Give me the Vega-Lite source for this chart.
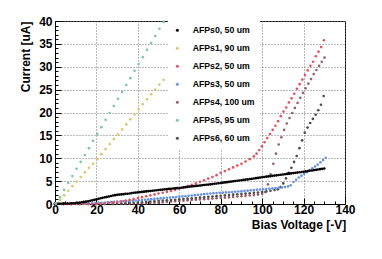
{
"$schema":"https://vega.github.io/schema/vega-lite/v6.json",
"width":290,"height":183,"autosize":"none",
"padding":{"left":55,"top":21,"right":37,"bottom":55},
"background":"white",
"config":{"view":{"stroke":"black","strokeWidth":1},"font":"Liberation Sans"},
"data":{"values":[
{"s":"AFPs4, 100 um","v":0,"i":0},{"s":"AFPs4, 100 um","v":4,"i":0},{"s":"AFPs4, 100 um","v":8,"i":0},{"s":"AFPs4, 100 um","v":12,"i":0},{"s":"AFPs4, 100 um","v":16,"i":0},{"s":"AFPs4, 100 um","v":20,"i":0},{"s":"AFPs4, 100 um","v":24,"i":0.01},{"s":"AFPs4, 100 um","v":28,"i":0.02},{"s":"AFPs4, 100 um","v":30,"i":0.05},{"s":"AFPs4, 100 um","v":32,"i":0.06},{"s":"AFPs4, 100 um","v":34,"i":0.07},{"s":"AFPs4, 100 um","v":36,"i":0.08},{"s":"AFPs4, 100 um","v":38,"i":0.09},{"s":"AFPs4, 100 um","v":40,"i":0.1},{"s":"AFPs4, 100 um","v":42,"i":0.14},{"s":"AFPs4, 100 um","v":44,"i":0.18},{"s":"AFPs4, 100 um","v":46,"i":0.22},{"s":"AFPs4, 100 um","v":48,"i":0.25},{"s":"AFPs4, 100 um","v":50,"i":0.28},{"s":"AFPs4, 100 um","v":52,"i":0.36},{"s":"AFPs4, 100 um","v":54,"i":0.44},{"s":"AFPs4, 100 um","v":56,"i":0.52},{"s":"AFPs4, 100 um","v":58,"i":0.59},{"s":"AFPs4, 100 um","v":60,"i":0.65},{"s":"AFPs4, 100 um","v":62,"i":0.72},{"s":"AFPs4, 100 um","v":64,"i":0.8},{"s":"AFPs4, 100 um","v":66,"i":0.87},{"s":"AFPs4, 100 um","v":68,"i":0.93},{"s":"AFPs4, 100 um","v":70,"i":1.0},{"s":"AFPs4, 100 um","v":72,"i":1.06},{"s":"AFPs4, 100 um","v":74,"i":1.12},{"s":"AFPs4, 100 um","v":76,"i":1.18},{"s":"AFPs4, 100 um","v":78,"i":1.25},{"s":"AFPs4, 100 um","v":80,"i":1.31},{"s":"AFPs4, 100 um","v":82,"i":1.37},{"s":"AFPs4, 100 um","v":84,"i":1.44},{"s":"AFPs4, 100 um","v":86,"i":1.53},{"s":"AFPs4, 100 um","v":88,"i":1.62},{"s":"AFPs4, 100 um","v":90,"i":1.7},{"s":"AFPs4, 100 um","v":92,"i":1.78},{"s":"AFPs4, 100 um","v":94,"i":1.86},{"s":"AFPs4, 100 um","v":96,"i":1.95},{"s":"AFPs4, 100 um","v":98,"i":2.05},{"s":"AFPs4, 100 um","v":100,"i":2.25},{"s":"AFPs4, 100 um","v":101.5,"i":2.6},{"s":"AFPs4, 100 um","v":102.8,"i":4.3},{"s":"AFPs4, 100 um","v":104.1,"i":6.5},{"s":"AFPs4, 100 um","v":105.4,"i":8.8},{"s":"AFPs4, 100 um","v":106.7,"i":11.0},{"s":"AFPs4, 100 um","v":108,"i":13.0},{"s":"AFPs4, 100 um","v":109.3,"i":14.6},{"s":"AFPs4, 100 um","v":110.6,"i":16.2},{"s":"AFPs4, 100 um","v":111.9,"i":17.6},{"s":"AFPs4, 100 um","v":113.2,"i":18.8},{"s":"AFPs4, 100 um","v":114.5,"i":19.9},{"s":"AFPs4, 100 um","v":115.8,"i":21.0},{"s":"AFPs4, 100 um","v":117.1,"i":22.1},{"s":"AFPs4, 100 um","v":118.4,"i":23.2},{"s":"AFPs4, 100 um","v":119.7,"i":24.3},{"s":"AFPs4, 100 um","v":121,"i":25.3},{"s":"AFPs4, 100 um","v":122.3,"i":26.3},{"s":"AFPs4, 100 um","v":123.6,"i":27.3},{"s":"AFPs4, 100 um","v":124.9,"i":28.4},{"s":"AFPs4, 100 um","v":126.2,"i":29.3},{"s":"AFPs4, 100 um","v":127.5,"i":30.2},{"s":"AFPs4, 100 um","v":128.8,"i":31.1},{"s":"AFPs4, 100 um","v":130.1,"i":32.0},
{"s":"AFPs6, 60 um","v":0,"i":0.02},{"s":"AFPs6, 60 um","v":4,"i":0.02},{"s":"AFPs6, 60 um","v":8,"i":0.02},{"s":"AFPs6, 60 um","v":12,"i":0.02},{"s":"AFPs6, 60 um","v":16,"i":0.02},{"s":"AFPs6, 60 um","v":20,"i":0.02},{"s":"AFPs6, 60 um","v":24,"i":0.02},{"s":"AFPs6, 60 um","v":28,"i":0.03},{"s":"AFPs6, 60 um","v":30,"i":0.04},{"s":"AFPs6, 60 um","v":32,"i":0.08},{"s":"AFPs6, 60 um","v":34,"i":0.14},{"s":"AFPs6, 60 um","v":36,"i":0.2},{"s":"AFPs6, 60 um","v":38,"i":0.25},{"s":"AFPs6, 60 um","v":40,"i":0.3},{"s":"AFPs6, 60 um","v":42,"i":0.38},{"s":"AFPs6, 60 um","v":44,"i":0.46},{"s":"AFPs6, 60 um","v":46,"i":0.54},{"s":"AFPs6, 60 um","v":48,"i":0.62},{"s":"AFPs6, 60 um","v":50,"i":0.7},{"s":"AFPs6, 60 um","v":52,"i":0.76},{"s":"AFPs6, 60 um","v":54,"i":0.82},{"s":"AFPs6, 60 um","v":56,"i":0.88},{"s":"AFPs6, 60 um","v":58,"i":0.94},{"s":"AFPs6, 60 um","v":60,"i":1.0},{"s":"AFPs6, 60 um","v":62,"i":1.08},{"s":"AFPs6, 60 um","v":64,"i":1.16},{"s":"AFPs6, 60 um","v":66,"i":1.24},{"s":"AFPs6, 60 um","v":68,"i":1.32},{"s":"AFPs6, 60 um","v":70,"i":1.4},{"s":"AFPs6, 60 um","v":72,"i":1.48},{"s":"AFPs6, 60 um","v":74,"i":1.56},{"s":"AFPs6, 60 um","v":76,"i":1.64},{"s":"AFPs6, 60 um","v":78,"i":1.72},{"s":"AFPs6, 60 um","v":80,"i":1.8},{"s":"AFPs6, 60 um","v":82,"i":1.88},{"s":"AFPs6, 60 um","v":84,"i":1.96},{"s":"AFPs6, 60 um","v":86,"i":2.04},{"s":"AFPs6, 60 um","v":88,"i":2.12},{"s":"AFPs6, 60 um","v":90,"i":2.2},{"s":"AFPs6, 60 um","v":92,"i":2.28},{"s":"AFPs6, 60 um","v":94,"i":2.36},{"s":"AFPs6, 60 um","v":96,"i":2.44},{"s":"AFPs6, 60 um","v":98,"i":2.52},{"s":"AFPs6, 60 um","v":100,"i":2.6},{"s":"AFPs6, 60 um","v":102,"i":2.75},{"s":"AFPs6, 60 um","v":104,"i":2.9},{"s":"AFPs6, 60 um","v":106,"i":3.05},{"s":"AFPs6, 60 um","v":107.6,"i":3.2},{"s":"AFPs6, 60 um","v":108.9,"i":3.7},{"s":"AFPs6, 60 um","v":110.2,"i":4.5},{"s":"AFPs6, 60 um","v":111.5,"i":5.6},{"s":"AFPs6, 60 um","v":112.8,"i":6.8},{"s":"AFPs6, 60 um","v":114.1,"i":7.9},{"s":"AFPs6, 60 um","v":115.4,"i":9.2},{"s":"AFPs6, 60 um","v":116.7,"i":10.5},{"s":"AFPs6, 60 um","v":118,"i":12.2},{"s":"AFPs6, 60 um","v":119.3,"i":13.9},{"s":"AFPs6, 60 um","v":120.6,"i":15.6},{"s":"AFPs6, 60 um","v":121.9,"i":16.7},{"s":"AFPs6, 60 um","v":123.2,"i":17.7},{"s":"AFPs6, 60 um","v":124.5,"i":18.6},{"s":"AFPs6, 60 um","v":125.8,"i":19.5},{"s":"AFPs6, 60 um","v":127.1,"i":20.5},{"s":"AFPs6, 60 um","v":128.4,"i":21.7},{"s":"AFPs6, 60 um","v":129.7,"i":23.6},
{"s":"AFPs3, 50 um","v":0,"i":0.02},{"s":"AFPs3, 50 um","v":1.5,"i":0.02},{"s":"AFPs3, 50 um","v":3,"i":0.02},{"s":"AFPs3, 50 um","v":4.5,"i":0.02},{"s":"AFPs3, 50 um","v":6,"i":0.03},{"s":"AFPs3, 50 um","v":7.5,"i":0.03},{"s":"AFPs3, 50 um","v":9,"i":0.04},{"s":"AFPs3, 50 um","v":10.5,"i":0.05},{"s":"AFPs3, 50 um","v":12,"i":0.06},{"s":"AFPs3, 50 um","v":13.5,"i":0.07},{"s":"AFPs3, 50 um","v":15,"i":0.08},{"s":"AFPs3, 50 um","v":16.5,"i":0.11},{"s":"AFPs3, 50 um","v":18,"i":0.15},{"s":"AFPs3, 50 um","v":19.5,"i":0.19},{"s":"AFPs3, 50 um","v":21,"i":0.23},{"s":"AFPs3, 50 um","v":22.5,"i":0.27},{"s":"AFPs3, 50 um","v":24,"i":0.32},{"s":"AFPs3, 50 um","v":25.5,"i":0.36},{"s":"AFPs3, 50 um","v":27,"i":0.41},{"s":"AFPs3, 50 um","v":28.5,"i":0.45},{"s":"AFPs3, 50 um","v":30,"i":0.5},{"s":"AFPs3, 50 um","v":31.5,"i":0.55},{"s":"AFPs3, 50 um","v":33,"i":0.59},{"s":"AFPs3, 50 um","v":34.5,"i":0.64},{"s":"AFPs3, 50 um","v":36,"i":0.68},{"s":"AFPs3, 50 um","v":37.5,"i":0.73},{"s":"AFPs3, 50 um","v":39,"i":0.77},{"s":"AFPs3, 50 um","v":40.5,"i":0.82},{"s":"AFPs3, 50 um","v":42,"i":0.88},{"s":"AFPs3, 50 um","v":43.5,"i":0.94},{"s":"AFPs3, 50 um","v":45,"i":1.0},{"s":"AFPs3, 50 um","v":46.5,"i":1.06},{"s":"AFPs3, 50 um","v":48,"i":1.12},{"s":"AFPs3, 50 um","v":49.5,"i":1.18},{"s":"AFPs3, 50 um","v":51,"i":1.24},{"s":"AFPs3, 50 um","v":52.5,"i":1.3},{"s":"AFPs3, 50 um","v":54,"i":1.36},{"s":"AFPs3, 50 um","v":55.5,"i":1.42},{"s":"AFPs3, 50 um","v":57,"i":1.48},{"s":"AFPs3, 50 um","v":58.5,"i":1.54},{"s":"AFPs3, 50 um","v":60,"i":1.6},{"s":"AFPs3, 50 um","v":61.5,"i":1.66},{"s":"AFPs3, 50 um","v":63,"i":1.72},{"s":"AFPs3, 50 um","v":64.5,"i":1.78},{"s":"AFPs3, 50 um","v":66,"i":1.85},{"s":"AFPs3, 50 um","v":67.5,"i":1.93},{"s":"AFPs3, 50 um","v":69,"i":2.0},{"s":"AFPs3, 50 um","v":70.5,"i":2.08},{"s":"AFPs3, 50 um","v":72,"i":2.15},{"s":"AFPs3, 50 um","v":73.5,"i":2.23},{"s":"AFPs3, 50 um","v":75,"i":2.3},{"s":"AFPs3, 50 um","v":76.5,"i":2.35},{"s":"AFPs3, 50 um","v":78,"i":2.39},{"s":"AFPs3, 50 um","v":79.5,"i":2.44},{"s":"AFPs3, 50 um","v":81,"i":2.48},{"s":"AFPs3, 50 um","v":82.5,"i":2.53},{"s":"AFPs3, 50 um","v":84,"i":2.57},{"s":"AFPs3, 50 um","v":85.5,"i":2.62},{"s":"AFPs3, 50 um","v":87,"i":2.68},{"s":"AFPs3, 50 um","v":88.5,"i":2.74},{"s":"AFPs3, 50 um","v":90,"i":2.8},{"s":"AFPs3, 50 um","v":91.5,"i":2.86},{"s":"AFPs3, 50 um","v":93,"i":2.92},{"s":"AFPs3, 50 um","v":94.5,"i":2.98},{"s":"AFPs3, 50 um","v":96,"i":3.04},{"s":"AFPs3, 50 um","v":97.5,"i":3.1},{"s":"AFPs3, 50 um","v":99,"i":3.16},{"s":"AFPs3, 50 um","v":100.5,"i":3.22},{"s":"AFPs3, 50 um","v":102,"i":3.28},{"s":"AFPs3, 50 um","v":103.5,"i":3.34},{"s":"AFPs3, 50 um","v":105,"i":3.4},{"s":"AFPs3, 50 um","v":106.5,"i":3.47},{"s":"AFPs3, 50 um","v":108,"i":3.55},{"s":"AFPs3, 50 um","v":109.5,"i":3.62},{"s":"AFPs3, 50 um","v":111,"i":3.7},{"s":"AFPs3, 50 um","v":112.5,"i":3.85},{"s":"AFPs3, 50 um","v":113.8,"i":4.1},{"s":"AFPs3, 50 um","v":115.1,"i":4.8},{"s":"AFPs3, 50 um","v":116.4,"i":5.3},{"s":"AFPs3, 50 um","v":117.7,"i":5.8},{"s":"AFPs3, 50 um","v":119,"i":6.2},{"s":"AFPs3, 50 um","v":120.3,"i":6.6},{"s":"AFPs3, 50 um","v":121.6,"i":7.0},{"s":"AFPs3, 50 um","v":122.9,"i":7.4},{"s":"AFPs3, 50 um","v":124.2,"i":7.8},{"s":"AFPs3, 50 um","v":125.5,"i":8.2},{"s":"AFPs3, 50 um","v":126.8,"i":8.6},{"s":"AFPs3, 50 um","v":128.1,"i":9.1},{"s":"AFPs3, 50 um","v":129.4,"i":9.6},{"s":"AFPs3, 50 um","v":130.7,"i":10.1},
{"s":"AFPs2, 50 um","v":0,"i":0.02},{"s":"AFPs2, 50 um","v":2,"i":0.02},{"s":"AFPs2, 50 um","v":4,"i":0.02},{"s":"AFPs2, 50 um","v":6,"i":0.02},{"s":"AFPs2, 50 um","v":8,"i":0.02},{"s":"AFPs2, 50 um","v":10,"i":0.02},{"s":"AFPs2, 50 um","v":12,"i":0.02},{"s":"AFPs2, 50 um","v":14,"i":0.02},{"s":"AFPs2, 50 um","v":16,"i":0.02},{"s":"AFPs2, 50 um","v":18,"i":0.03},{"s":"AFPs2, 50 um","v":20,"i":0.04},{"s":"AFPs2, 50 um","v":22,"i":0.08},{"s":"AFPs2, 50 um","v":24,"i":0.15},{"s":"AFPs2, 50 um","v":26,"i":0.25},{"s":"AFPs2, 50 um","v":28,"i":0.35},{"s":"AFPs2, 50 um","v":30,"i":0.45},{"s":"AFPs2, 50 um","v":32,"i":0.6},{"s":"AFPs2, 50 um","v":34,"i":0.75},{"s":"AFPs2, 50 um","v":36,"i":0.9},{"s":"AFPs2, 50 um","v":38,"i":1.1},{"s":"AFPs2, 50 um","v":40,"i":1.3},{"s":"AFPs2, 50 um","v":42,"i":1.5},{"s":"AFPs2, 50 um","v":44,"i":1.7},{"s":"AFPs2, 50 um","v":46,"i":1.9},{"s":"AFPs2, 50 um","v":48,"i":2.1},{"s":"AFPs2, 50 um","v":50,"i":2.3},{"s":"AFPs2, 50 um","v":52,"i":2.45},{"s":"AFPs2, 50 um","v":54,"i":2.65},{"s":"AFPs2, 50 um","v":56,"i":2.85},{"s":"AFPs2, 50 um","v":58,"i":3.1},{"s":"AFPs2, 50 um","v":60,"i":3.35},{"s":"AFPs2, 50 um","v":62,"i":3.6},{"s":"AFPs2, 50 um","v":64,"i":3.9},{"s":"AFPs2, 50 um","v":66,"i":4.2},{"s":"AFPs2, 50 um","v":68,"i":4.5},{"s":"AFPs2, 50 um","v":70,"i":4.85},{"s":"AFPs2, 50 um","v":72,"i":5.2},{"s":"AFPs2, 50 um","v":74,"i":5.55},{"s":"AFPs2, 50 um","v":76,"i":5.9},{"s":"AFPs2, 50 um","v":78,"i":6.3},{"s":"AFPs2, 50 um","v":80,"i":6.8},{"s":"AFPs2, 50 um","v":82,"i":7.2},{"s":"AFPs2, 50 um","v":84,"i":7.6},{"s":"AFPs2, 50 um","v":86,"i":8.0},{"s":"AFPs2, 50 um","v":88,"i":8.4},{"s":"AFPs2, 50 um","v":90,"i":8.8},{"s":"AFPs2, 50 um","v":92,"i":9.3},{"s":"AFPs2, 50 um","v":94,"i":9.8},{"s":"AFPs2, 50 um","v":96,"i":10.4},{"s":"AFPs2, 50 um","v":97.3,"i":11.0},{"s":"AFPs2, 50 um","v":98.6,"i":11.8},{"s":"AFPs2, 50 um","v":99.9,"i":12.6},{"s":"AFPs2, 50 um","v":101.2,"i":13.5},{"s":"AFPs2, 50 um","v":102.5,"i":14.4},{"s":"AFPs2, 50 um","v":103.8,"i":15.3},{"s":"AFPs2, 50 um","v":105.1,"i":16.2},{"s":"AFPs2, 50 um","v":106.4,"i":17.1},{"s":"AFPs2, 50 um","v":107.7,"i":18.1},{"s":"AFPs2, 50 um","v":109,"i":19.2},{"s":"AFPs2, 50 um","v":110.3,"i":20.2},{"s":"AFPs2, 50 um","v":111.6,"i":21.1},{"s":"AFPs2, 50 um","v":112.9,"i":22.2},{"s":"AFPs2, 50 um","v":114.2,"i":23.1},{"s":"AFPs2, 50 um","v":115.5,"i":24.1},{"s":"AFPs2, 50 um","v":116.8,"i":25.2},{"s":"AFPs2, 50 um","v":118.1,"i":26.2},{"s":"AFPs2, 50 um","v":119.4,"i":27.2},{"s":"AFPs2, 50 um","v":120.7,"i":28.2},{"s":"AFPs2, 50 um","v":122,"i":29.2},{"s":"AFPs2, 50 um","v":123.3,"i":30.2},{"s":"AFPs2, 50 um","v":124.6,"i":31.1},{"s":"AFPs2, 50 um","v":125.9,"i":32.3},{"s":"AFPs2, 50 um","v":127.2,"i":33.3},{"s":"AFPs2, 50 um","v":128.5,"i":34.3},{"s":"AFPs2, 50 um","v":129.8,"i":35.8},
{"s":"AFPs0, 50 um","v":0,"i":0.05},{"s":"AFPs0, 50 um","v":1,"i":0.05},{"s":"AFPs0, 50 um","v":2,"i":0.05},{"s":"AFPs0, 50 um","v":3,"i":0.05},{"s":"AFPs0, 50 um","v":4,"i":0.08},{"s":"AFPs0, 50 um","v":5,"i":0.1},{"s":"AFPs0, 50 um","v":6,"i":0.1},{"s":"AFPs0, 50 um","v":7,"i":0.12},{"s":"AFPs0, 50 um","v":8,"i":0.15},{"s":"AFPs0, 50 um","v":9,"i":0.17},{"s":"AFPs0, 50 um","v":10,"i":0.2},{"s":"AFPs0, 50 um","v":11,"i":0.25},{"s":"AFPs0, 50 um","v":12,"i":0.3},{"s":"AFPs0, 50 um","v":13,"i":0.38},{"s":"AFPs0, 50 um","v":14,"i":0.45},{"s":"AFPs0, 50 um","v":15,"i":0.52},{"s":"AFPs0, 50 um","v":16,"i":0.6},{"s":"AFPs0, 50 um","v":17,"i":0.7},{"s":"AFPs0, 50 um","v":18,"i":0.8},{"s":"AFPs0, 50 um","v":19,"i":0.9},{"s":"AFPs0, 50 um","v":20,"i":1.0},{"s":"AFPs0, 50 um","v":21,"i":1.12},{"s":"AFPs0, 50 um","v":22,"i":1.25},{"s":"AFPs0, 50 um","v":23,"i":1.35},{"s":"AFPs0, 50 um","v":24,"i":1.45},{"s":"AFPs0, 50 um","v":25,"i":1.55},{"s":"AFPs0, 50 um","v":26,"i":1.65},{"s":"AFPs0, 50 um","v":27,"i":1.75},{"s":"AFPs0, 50 um","v":28,"i":1.85},{"s":"AFPs0, 50 um","v":29,"i":1.93},{"s":"AFPs0, 50 um","v":30,"i":2.0},{"s":"AFPs0, 50 um","v":31,"i":2.05},{"s":"AFPs0, 50 um","v":32,"i":2.1},{"s":"AFPs0, 50 um","v":33,"i":2.15},{"s":"AFPs0, 50 um","v":34,"i":2.2},{"s":"AFPs0, 50 um","v":35,"i":2.25},{"s":"AFPs0, 50 um","v":36,"i":2.3},{"s":"AFPs0, 50 um","v":37,"i":2.38},{"s":"AFPs0, 50 um","v":38,"i":2.45},{"s":"AFPs0, 50 um","v":39,"i":2.5},{"s":"AFPs0, 50 um","v":40,"i":2.55},{"s":"AFPs0, 50 um","v":41,"i":2.6},{"s":"AFPs0, 50 um","v":42,"i":2.65},{"s":"AFPs0, 50 um","v":43,"i":2.7},{"s":"AFPs0, 50 um","v":44,"i":2.75},{"s":"AFPs0, 50 um","v":45,"i":2.8},{"s":"AFPs0, 50 um","v":46,"i":2.85},{"s":"AFPs0, 50 um","v":47,"i":2.9},{"s":"AFPs0, 50 um","v":48,"i":2.95},{"s":"AFPs0, 50 um","v":49,"i":3.0},{"s":"AFPs0, 50 um","v":50,"i":3.05},{"s":"AFPs0, 50 um","v":51,"i":3.1},{"s":"AFPs0, 50 um","v":52,"i":3.15},{"s":"AFPs0, 50 um","v":53,"i":3.2},{"s":"AFPs0, 50 um","v":54,"i":3.25},{"s":"AFPs0, 50 um","v":55,"i":3.3},{"s":"AFPs0, 50 um","v":56,"i":3.34},{"s":"AFPs0, 50 um","v":57,"i":3.38},{"s":"AFPs0, 50 um","v":58,"i":3.42},{"s":"AFPs0, 50 um","v":59,"i":3.46},{"s":"AFPs0, 50 um","v":60,"i":3.5},{"s":"AFPs0, 50 um","v":61,"i":3.56},{"s":"AFPs0, 50 um","v":62,"i":3.62},{"s":"AFPs0, 50 um","v":63,"i":3.68},{"s":"AFPs0, 50 um","v":64,"i":3.74},{"s":"AFPs0, 50 um","v":65,"i":3.8},{"s":"AFPs0, 50 um","v":66,"i":3.85},{"s":"AFPs0, 50 um","v":67,"i":3.9},{"s":"AFPs0, 50 um","v":68,"i":3.95},{"s":"AFPs0, 50 um","v":69,"i":4.0},{"s":"AFPs0, 50 um","v":70,"i":4.05},{"s":"AFPs0, 50 um","v":71,"i":4.1},{"s":"AFPs0, 50 um","v":72,"i":4.15},{"s":"AFPs0, 50 um","v":73,"i":4.2},{"s":"AFPs0, 50 um","v":74,"i":4.25},{"s":"AFPs0, 50 um","v":75,"i":4.3},{"s":"AFPs0, 50 um","v":76,"i":4.36},{"s":"AFPs0, 50 um","v":77,"i":4.42},{"s":"AFPs0, 50 um","v":78,"i":4.48},{"s":"AFPs0, 50 um","v":79,"i":4.54},{"s":"AFPs0, 50 um","v":80,"i":4.6},{"s":"AFPs0, 50 um","v":81,"i":4.66},{"s":"AFPs0, 50 um","v":82,"i":4.72},{"s":"AFPs0, 50 um","v":83,"i":4.78},{"s":"AFPs0, 50 um","v":84,"i":4.84},{"s":"AFPs0, 50 um","v":85,"i":4.9},{"s":"AFPs0, 50 um","v":86,"i":4.96},{"s":"AFPs0, 50 um","v":87,"i":5.02},{"s":"AFPs0, 50 um","v":88,"i":5.08},{"s":"AFPs0, 50 um","v":89,"i":5.14},{"s":"AFPs0, 50 um","v":90,"i":5.2},{"s":"AFPs0, 50 um","v":91,"i":5.26},{"s":"AFPs0, 50 um","v":92,"i":5.32},{"s":"AFPs0, 50 um","v":93,"i":5.38},{"s":"AFPs0, 50 um","v":94,"i":5.44},{"s":"AFPs0, 50 um","v":95,"i":5.5},{"s":"AFPs0, 50 um","v":96,"i":5.57},{"s":"AFPs0, 50 um","v":97,"i":5.64},{"s":"AFPs0, 50 um","v":98,"i":5.71},{"s":"AFPs0, 50 um","v":99,"i":5.78},{"s":"AFPs0, 50 um","v":100,"i":5.85},{"s":"AFPs0, 50 um","v":101,"i":5.91},{"s":"AFPs0, 50 um","v":102,"i":5.97},{"s":"AFPs0, 50 um","v":103,"i":6.03},{"s":"AFPs0, 50 um","v":104,"i":6.09},{"s":"AFPs0, 50 um","v":105,"i":6.15},{"s":"AFPs0, 50 um","v":106,"i":6.21},{"s":"AFPs0, 50 um","v":107,"i":6.27},{"s":"AFPs0, 50 um","v":108,"i":6.33},{"s":"AFPs0, 50 um","v":109,"i":6.39},{"s":"AFPs0, 50 um","v":110,"i":6.45},{"s":"AFPs0, 50 um","v":111,"i":6.51},{"s":"AFPs0, 50 um","v":112,"i":6.57},{"s":"AFPs0, 50 um","v":113,"i":6.63},{"s":"AFPs0, 50 um","v":114,"i":6.69},{"s":"AFPs0, 50 um","v":115,"i":6.75},{"s":"AFPs0, 50 um","v":116,"i":6.81},{"s":"AFPs0, 50 um","v":117,"i":6.87},{"s":"AFPs0, 50 um","v":118,"i":6.93},{"s":"AFPs0, 50 um","v":119,"i":6.99},{"s":"AFPs0, 50 um","v":120,"i":7.05},{"s":"AFPs0, 50 um","v":121,"i":7.12},{"s":"AFPs0, 50 um","v":122,"i":7.19},{"s":"AFPs0, 50 um","v":123,"i":7.26},{"s":"AFPs0, 50 um","v":124,"i":7.33},{"s":"AFPs0, 50 um","v":125,"i":7.4},{"s":"AFPs0, 50 um","v":126,"i":7.47},{"s":"AFPs0, 50 um","v":127,"i":7.54},{"s":"AFPs0, 50 um","v":128,"i":7.61},{"s":"AFPs0, 50 um","v":129,"i":7.68},{"s":"AFPs0, 50 um","v":130,"i":7.75},
{"s":"AFPs1, 90 um","v":0.4,"i":0.1},{"s":"AFPs1, 90 um","v":2.4,"i":0.9},{"s":"AFPs1, 90 um","v":4.4,"i":1.9},{"s":"AFPs1, 90 um","v":6.4,"i":2.9},{"s":"AFPs1, 90 um","v":8.4,"i":3.9},{"s":"AFPs1, 90 um","v":10.4,"i":4.9},{"s":"AFPs1, 90 um","v":12.4,"i":5.9},{"s":"AFPs1, 90 um","v":14.4,"i":6.9},{"s":"AFPs1, 90 um","v":16.4,"i":7.9},{"s":"AFPs1, 90 um","v":18.4,"i":8.8},{"s":"AFPs1, 90 um","v":20.4,"i":9.8},{"s":"AFPs1, 90 um","v":22.4,"i":10.9},{"s":"AFPs1, 90 um","v":24.4,"i":12.0},{"s":"AFPs1, 90 um","v":26.4,"i":13.1},{"s":"AFPs1, 90 um","v":28.4,"i":14.2},{"s":"AFPs1, 90 um","v":30.4,"i":15.2},{"s":"AFPs1, 90 um","v":32.4,"i":16.3},{"s":"AFPs1, 90 um","v":34.4,"i":17.4},{"s":"AFPs1, 90 um","v":36.4,"i":18.5},{"s":"AFPs1, 90 um","v":38.4,"i":19.6},{"s":"AFPs1, 90 um","v":40.4,"i":20.7},{"s":"AFPs1, 90 um","v":42.4,"i":21.8},{"s":"AFPs1, 90 um","v":44.4,"i":22.9},{"s":"AFPs1, 90 um","v":46.4,"i":24.0},{"s":"AFPs1, 90 um","v":48.4,"i":25.0},{"s":"AFPs1, 90 um","v":50.4,"i":26.1},{"s":"AFPs1, 90 um","v":52.4,"i":27.1},
{"s":"AFPs5, 95 um","v":0.4,"i":0.1},{"s":"AFPs5, 95 um","v":2.4,"i":1.5},{"s":"AFPs5, 95 um","v":4.4,"i":3.1},{"s":"AFPs5, 95 um","v":6.4,"i":4.6},{"s":"AFPs5, 95 um","v":8.4,"i":6.1},{"s":"AFPs5, 95 um","v":10.4,"i":7.7},{"s":"AFPs5, 95 um","v":12.4,"i":9.2},{"s":"AFPs5, 95 um","v":14.4,"i":10.7},{"s":"AFPs5, 95 um","v":16.4,"i":12.2},{"s":"AFPs5, 95 um","v":18.4,"i":13.8},{"s":"AFPs5, 95 um","v":20.4,"i":15.3},{"s":"AFPs5, 95 um","v":22.4,"i":16.8},{"s":"AFPs5, 95 um","v":24.4,"i":18.4},{"s":"AFPs5, 95 um","v":26.4,"i":19.9},{"s":"AFPs5, 95 um","v":28.4,"i":21.4},{"s":"AFPs5, 95 um","v":30.4,"i":23.0},{"s":"AFPs5, 95 um","v":32.4,"i":24.5},{"s":"AFPs5, 95 um","v":34.4,"i":26.0},{"s":"AFPs5, 95 um","v":36.4,"i":27.5},{"s":"AFPs5, 95 um","v":38.4,"i":29.1},{"s":"AFPs5, 95 um","v":40.4,"i":30.6},{"s":"AFPs5, 95 um","v":42.4,"i":32.1},{"s":"AFPs5, 95 um","v":44.4,"i":33.7},{"s":"AFPs5, 95 um","v":46.4,"i":35.2},{"s":"AFPs5, 95 um","v":48.4,"i":36.7},{"s":"AFPs5, 95 um","v":50.4,"i":38.3},{"s":"AFPs5, 95 um","v":52.4,"i":39.8}
]},
"mark":{"type":"point","filled":true,"size":7,"opacity":1,"shape":"circle"},
"encoding":{
"x":{"field":"v","type":"quantitative","scale":{"domain":[0,140],"nice":false,"zero":false},
 "axis":{"title":"Bias Voltage [-V]","titleFont":"Liberation Sans","titleFontWeight":"bold","titleFontSize":12,"titleColor":"black","titleAlign":"right","titleBaseline":"alphabetic","titleX":290.7,"titleY":24,
 "values":[0,5,10,15,20,25,30,35,40,45,50,55,60,65,70,75,80,85,90,95,100,105,110,115,120,125,130,135,140],
 "labelExpr":"datum.value % 20 === 0 ? datum.label : ''","labelOverlap":false,"labelFlush":false,"labelBound":false,
 "labelFont":"Liberation Sans","labelFontWeight":"bold","labelFontSize":12,"labelColor":"black","labelPadding":6,
 "tickColor":"black","tickSize":{"condition":{"test":"datum.value % 20 === 0","value":-6},"value":-3},
 "domainColor":"black","grid":true,"gridColor":"#777","gridDash":[1,2],"gridOpacity":{"condition":{"test":"datum.value % 20 === 0","value":1},"value":0}}},
"y":{"field":"i","type":"quantitative","scale":{"domain":[0,40],"nice":false,"zero":false},
 "axis":{"title":"Current [uA]","titleFont":"Liberation Sans","titleFontWeight":"bold","titleFontSize":12,"titleColor":"black","titleAngle":-90,"titleAlign":"right","titleBaseline":"alphabetic","titleX":-26,"titleY":0,
 "values":[0,1,2,3,4,5,6,7,8,9,10,11,12,13,14,15,16,17,18,19,20,21,22,23,24,25,26,27,28,29,30,31,32,33,34,35,36,37,38,39,40],
 "labelExpr":"datum.value % 5 === 0 ? datum.label : ''","labelOverlap":false,"labelFlush":false,"labelBound":false,
 "labelFont":"Liberation Sans","labelFontWeight":"bold","labelFontSize":12,"labelColor":"black","labelPadding":9,
 "tickColor":"black","tickSize":{"condition":{"test":"datum.value % 5 === 0","value":-6},"value":-3},
 "domainColor":"black","grid":true,"gridColor":"#777","gridDash":[1,2],"gridOpacity":{"condition":{"test":"datum.value % 5 === 0","value":1},"value":0}}},
"color":{"field":"s","type":"nominal",
 "scale":{"domain":["AFPs0, 50 um","AFPs1, 90 um","AFPs2, 50 um","AFPs3, 50 um","AFPs4, 100 um","AFPs5, 95 um","AFPs6, 60 um"],
  "range":["#000000","#d9c66b","#de5560","#6a92dc","#9a5f6d","#7cc9a2","#4d4d4d"]},
 "legend":{"title":null,"orient":"none","legendX":113,"legendY":0,"fillColor":"white","padding":5,
  "labelFont":"Liberation Sans","labelFontWeight":"bold","labelFontSize":8.7,"labelColor":"black","labelOffset":11,
  "symbolType":"circle","symbolSize":9,"symbolOpacity":1,"symbolStrokeWidth":0,"rowPadding":8}}
}
}
